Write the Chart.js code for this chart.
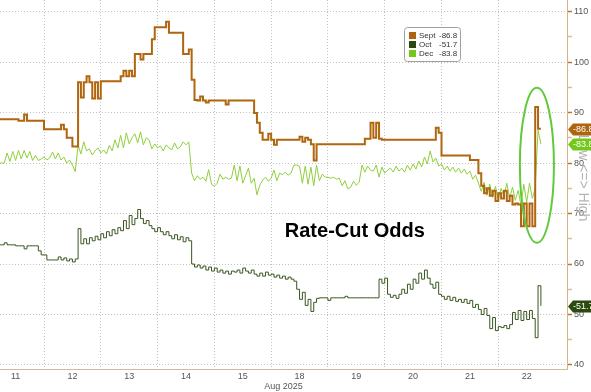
<!DOCTYPE html>
<html>
<head>
<meta charset="utf-8">
<title>Rate-Cut Odds</title>
<script src="https://cdn.jsdelivr.net/npm/chart.js@4.4.1/dist/chart.umd.min.js"></script>
<style>
  html, body { margin: 0; padding: 0; background: #fff; }
  #wrap { width: 591px; height: 392px; }
</style>
</head>
<body>
<div id="wrap"><canvas id="oddsChart" width="591" height="392"></canvas></div>
<script>

// trading days shown on the x axis (weekend 16/17 skipped), one unit = one day
const dayLabels = ['11', '12', '13', '14', '15', '18', '19', '20', '21', '22'];
const dayCenters = [0.5, 1.5, 2.5, 3.5, 4.5, 5.5, 6.5, 7.5, 8.5, 9.5];
const dayBounds = [1, 2, 3, 4, 5, 6, 7, 8, 9];
const yTicks = [40, 45, 50, 55, 60, 65, 70, 75, 80, 85, 90, 95, 100, 105, 110];

// samples every 0.05 day starting at 0.2
const sampleStart = 0.2;
const sampleStep = 0.05;

const seriesNames = ['Sept', 'Oct', 'Dec'];
const seriesLast = [86.8, 51.7, 83.8];
const seriesColors = ['#b0660f', '#3a5620', '#8fcf3c'];
const tagColors = ['#ad6510', '#2c4a10', '#74c81c'];

const septValues = [
  88.7, 88.7, 88.7, 88.7, 88.7, 88.7, 88.7, 88.4, 88.4, 89.6,
  88.4, 88.4, 88.4, 88.4, 88.4, 88.4, 86.7, 86.7, 86.7, 86.7,
  86.7, 86.7, 87.6, 86.7, 85.0, 85.0, 83.3, 83.3, 96.0, 93.0,
  96.0, 97.2, 96.0, 92.8, 96.0, 92.8, 96.2, 96.2, 96.2, 96.2,
  96.2, 96.2, 96.2, 97.2, 98.3, 97.2, 98.3, 97.2, 101.6, 101.6,
  100.5, 101.6, 101.6, 101.6, 104.5, 106.9, 106.9, 106.9, 106.9, 108.0,
  105.8, 105.8, 105.8, 105.8, 105.8, 101.6, 101.6, 102.5, 96.5, 92.5,
  92.4, 93.2, 92.4, 92.0, 92.4, 92.4, 92.4, 92.4, 92.4, 92.4,
  91.6, 92.4, 92.4, 92.4, 92.4, 92.4, 92.4, 92.4, 92.4, 92.4,
  89.9, 88.0, 86.0, 84.6, 84.6, 85.8, 84.6, 83.6, 84.6, 84.6,
  84.6, 84.6, 84.6, 84.6, 84.6, 84.6, 85.2, 84.2, 85.0, 84.6,
  83.7, 80.5, 83.7, 83.7, 83.7, 83.7, 83.7, 83.7, 83.7, 83.7,
  83.7, 83.7, 83.7, 83.7, 83.7, 83.7, 83.7, 83.7, 83.7, 84.8,
  84.8, 88.0, 85.0, 88.0, 84.8, 84.6, 84.6, 84.6, 84.6, 84.6,
  84.6, 84.6, 84.6, 84.6, 84.6, 84.6, 84.6, 84.6, 84.6, 84.6,
  84.6, 84.6, 84.6, 84.6, 87.0, 86.0, 81.5, 81.5, 81.5, 81.5,
  81.5, 81.5, 81.5, 81.5, 81.5, 81.5, 80.6, 80.6, 80.6, 78.0,
  75.5, 74.0, 75.0, 73.5, 74.5, 72.5, 74.0, 73.0, 74.5, 72.5,
  73.5, 71.8, 72.0, 71.8, 67.5, 72.0, 67.5, 72.0, 67.5, 91.1,
  86.8, 86.8
];

const octValues = [
  63.8, 63.8, 64.2, 63.8, 63.8, 63.8, 63.6, 63.6, 63.6, 63.0,
  63.6, 63.6, 63.6, 63.6, 62.6, 61.8, 61.8, 60.8, 60.8, 60.8,
  60.8, 61.4, 60.8, 61.2, 60.6, 61.0, 60.4, 61.0, 67.0, 64.0,
  65.0, 64.0, 65.2, 64.6, 65.5, 64.8, 66.0, 65.2, 66.4, 65.6,
  66.8, 66.0, 67.2, 66.6, 68.6, 67.0, 69.6, 67.8, 69.0, 70.8,
  69.0, 68.0, 68.6, 67.6, 67.0, 66.4, 67.2, 66.4, 65.8, 66.4,
  65.6, 65.0, 65.8, 64.8, 65.4, 64.4, 65.2, 64.6, 60.0, 59.4,
  59.8, 59.2, 59.6, 58.8, 59.4, 58.6, 59.2, 58.4, 58.8, 58.2,
  58.6, 58.0, 58.6, 58.4, 58.8, 58.2, 59.2, 58.6, 58.2, 58.8,
  58.0, 57.6, 58.2, 57.6, 58.4, 57.8, 58.0, 57.4, 57.8, 57.2,
  57.6, 57.0, 57.4, 57.0, 56.6, 55.0, 53.0, 54.4, 51.8, 53.0,
  50.6, 52.4, 53.2, 53.3, 53.3, 53.3, 52.8, 53.3, 53.3, 53.3,
  53.3, 53.3, 53.6, 53.3, 53.3, 53.3, 53.3, 53.3, 53.3, 53.3,
  53.3, 53.3, 53.3, 53.3, 57.0, 56.2, 57.2, 54.0, 53.4, 53.8,
  53.2, 54.0, 55.0, 54.2, 56.0, 55.0, 57.0, 56.2, 58.2, 57.0,
  58.8, 57.2, 56.0, 55.2, 56.4, 54.0, 53.6, 53.0, 53.6, 52.8,
  53.4, 52.6, 53.0, 52.4, 53.0, 52.2, 52.8, 51.4, 52.0, 51.0,
  50.0, 51.2, 49.8, 47.2, 49.4, 46.8, 47.6, 47.4, 47.8, 47.2,
  48.0, 50.4, 49.0, 50.8, 48.8, 50.6, 49.0, 50.8, 49.2, 45.4,
  55.7, 51.7
];

const decValues = [
  80.0, 80.0, 80.0, 82.0, 80.3, 82.3, 80.5, 82.5, 80.8, 82.5,
  81.0, 82.3, 80.5, 81.5, 80.5, 80.8, 81.2, 80.6, 81.0, 82.2,
  80.8, 82.0, 80.6, 81.2, 80.0, 80.6, 79.6, 78.3, 83.5, 81.8,
  84.2, 82.4, 82.8, 81.6, 82.4, 83.0, 82.0, 82.6, 81.8, 83.5,
  82.4, 84.6, 83.0, 85.5, 83.0, 86.0, 83.8, 85.0, 85.8, 84.0,
  86.2, 83.6, 85.0, 84.6, 82.8, 83.8, 83.0, 83.4, 82.4, 83.6,
  83.0, 82.6, 84.0, 82.8, 83.2, 84.2, 83.6, 84.2, 78.0, 76.5,
  77.5, 76.8, 77.2, 76.4, 78.7, 75.8, 75.4, 76.0, 77.8, 76.8,
  77.2, 76.8, 77.0, 79.6, 76.5, 79.4, 76.0, 77.5, 79.0, 76.0,
  77.0, 73.7, 75.6, 76.6, 77.2, 76.4, 77.0, 78.6, 76.5, 78.0,
  77.7, 78.2, 77.6, 78.0, 79.6, 79.6, 79.4, 76.0, 79.4, 75.8,
  79.2, 75.5, 79.6, 76.5, 77.8, 77.2, 77.2, 77.0, 77.2, 76.8,
  77.0, 75.5, 76.5, 74.9, 75.2, 76.4, 75.6, 76.2, 79.6, 78.2,
  79.4, 78.6, 78.4, 79.6, 77.2, 79.2, 78.0, 78.6, 79.0, 78.2,
  79.4, 78.4, 79.0, 78.2, 79.6, 78.6, 79.8, 78.8, 80.4, 79.2,
  81.2, 79.8, 82.4, 80.2, 81.0, 79.4, 79.8, 78.6, 79.4, 78.4,
  79.2, 78.2, 79.0, 78.0, 78.8, 77.8, 78.4, 76.8, 77.6, 76.0,
  74.4, 76.2, 73.6, 75.8, 73.2, 75.4, 72.8, 75.0, 73.4, 76.0,
  73.0, 75.2, 72.6, 74.6, 71.6, 75.8, 72.2, 76.0, 73.0, 75.0,
  86.5, 83.8
];

// annotation placement in data units
const ellipseX = [9.38, 9.98];
const ellipseY = [64.2, 94.9];
const noteText = 'Rate-Cut Odds';
const notePos = [5.24, 65.4];

function toPoints(values) {
  return values.map((v, i) => ({ x: sampleStart + i * sampleStep, y: v }));
}

const extras = {
  id: 'extras',
  afterDatasetsDraw(chart) {
    const ctx = chart.ctx;
    const xs = chart.scales.x;
    const ys = chart.scales.y;

    // circled last move
    const x0 = xs.getPixelForValue(ellipseX[0]);
    const x1 = xs.getPixelForValue(ellipseX[1]);
    const y0 = ys.getPixelForValue(ellipseY[1]);
    const y1 = ys.getPixelForValue(ellipseY[0]);
    ctx.save();
    ctx.beginPath();
    ctx.ellipse((x0 + x1) / 2, (y0 + y1) / 2, (x1 - x0) / 2, (y1 - y0) / 2, 0, 0, Math.PI * 2);
    ctx.strokeStyle = '#62c83c';
    ctx.lineWidth = 2;
    ctx.stroke();

    ctx.fillStyle = '#000';
    ctx.font = 'bold 20px "Liberation Sans", Arial, sans-serif';
    ctx.textBaseline = 'alphabetic';
    ctx.textAlign = 'left';
    ctx.fillText(noteText, xs.getPixelForValue(notePos[0]), ys.getPixelForValue(notePos[1]));
    ctx.restore();
  },
  afterDraw(chart) {
    const ctx = chart.ctx;
    const ys = chart.scales.y;
    ctx.save();

    // rotated axis caption
    ctx.translate(583, 178);
    ctx.rotate(Math.PI / 2);
    ctx.fillStyle = '#b4b4b4';
    ctx.font = '14px "Liberation Sans", Arial, sans-serif';
    ctx.textAlign = 'center';
    ctx.textBaseline = 'middle';
    ctx.fillText('Low <=> High', 0, 0);
    ctx.restore();

    // last value tags
    ctx.save();
    ctx.font = '9px "Liberation Sans", Arial, sans-serif';
    ctx.textBaseline = 'middle';
    ctx.textAlign = 'left';
    seriesLast.forEach((v, i) => {
      const y = Math.round(ys.getPixelForValue(v)) + 0.5;
      const left = ys.left + 1;
      ctx.beginPath();
      ctx.moveTo(left, y);
      ctx.lineTo(left + 5, y - 6);
      ctx.lineTo(chart.width, y - 6);
      ctx.lineTo(chart.width, y + 6);
      ctx.lineTo(left + 5, y + 6);
      ctx.closePath();
      ctx.fillStyle = tagColors[i];
      ctx.fill();
      ctx.fillStyle = '#fff';
      ctx.fillText('-' + v.toFixed(1), left + 5, y + 0.5);
    });
    ctx.restore();

    // legend box
    ctx.save();
    const bx = 404.5, by = 27.5, bw = 56, bh = 34;
    ctx.beginPath();
    ctx.roundRect(bx, by, bw, bh, 3);
    ctx.fillStyle = '#fff';
    ctx.fill();
    ctx.strokeStyle = '#a0a0a0';
    ctx.lineWidth = 1;
    ctx.stroke();
    ctx.font = '8px "Liberation Sans", Arial, sans-serif';
    ctx.textBaseline = 'middle';
    seriesNames.forEach((name, i) => {
      const cy = 35.5 + i * 9;
      ctx.fillStyle = tagColors[i];
      ctx.fillRect(409, cy - 3.5, 7, 7);
      ctx.fillStyle = '#333';
      ctx.fillText(name, 419, cy);
      ctx.fillText('-' + seriesLast[i].toFixed(1), 439, cy);
    });
    ctx.restore();
  }
};

const ctx = document.getElementById('oddsChart').getContext('2d');

new Chart(ctx, {
  type: 'line',
  data: {
    datasets: [
      {
        label: seriesNames[0],
        data: toPoints(septValues),
        borderColor: seriesColors[0],
        borderWidth: 2,
        stepped: true,
        pointRadius: 0
      },
      {
        label: seriesNames[1],
        data: toPoints(octValues),
        borderColor: seriesColors[1],
        borderWidth: 1,
        stepped: true,
        pointRadius: 0
      },
      {
        label: seriesNames[2],
        data: toPoints(decValues),
        borderColor: seriesColors[2],
        borderWidth: 1,
        pointRadius: 0
      }
    ]
  },
  options: {
    responsive: false,
    animation: false,
    layout: { padding: 0 },
    plugins: {
      legend: { display: false },
      tooltip: { enabled: false }
    },
    scales: {
      x: {
        type: 'linear',
        position: 'bottom',
        min: 0.225,
        max: 10.21,
        afterBuildTicks: (s) => { s.ticks = dayBounds.map(v => ({ value: v })); },
        afterFit: (s) => { s.height = 0; s.paddingLeft = 0; s.paddingRight = 0; },
        ticks: { display: false },
        grid: { color: '#c2c2c2', lineWidth: 1, drawTicks: false },
        border: { display: true, color: '#cbbd9c', dash: [1, 2] }
      },
      xl: {
        type: 'linear',
        position: 'bottom',
        min: 0.225,
        max: 10.21,
        afterBuildTicks: (s) => { s.ticks = dayCenters.map(v => ({ value: v })); },
        afterFit: (s) => { s.height = 23; s.paddingLeft = 0; s.paddingRight = 0; },
        ticks: {
          autoSkip: false,
          maxRotation: 0,
          padding: 2,
          color: '#555',
          font: { family: '"Liberation Sans", Arial, sans-serif', size: 9 },
          callback: (value, index) => dayLabels[index]
        },
        grid: { display: false, drawTicks: false },
        border: { display: false },
        title: {
          display: true,
          text: 'Aug 2025',
          color: '#555',
          padding: 0,
          font: { family: '"Liberation Sans", Arial, sans-serif', size: 9 }
        }
      },
      y: {
        type: 'linear',
        position: 'right',
        min: 39.2,
        max: 112.3,
        afterBuildTicks: (s) => { s.ticks = yTicks.map(v => ({ value: v })); },
        afterFit: (s) => { s.width = 24; s.paddingTop = 0; s.paddingBottom = 0; },
        ticks: {
          padding: 2,
          color: '#555',
          font: { family: '"Liberation Sans", Arial, sans-serif', size: 9 },
          callback: (value) => (value % 10 === 0 ? value : '')
        },
        grid: {
          color: (c) => (c.tick && c.tick.value % 10 === 0 ? '#c2c2c2' : 'rgba(0,0,0,0)'),
          tickColor: (c) => (c.tick && c.tick.value % 10 === 0 ? '#b5782a' : '#d8bf98'),
          tickLength: 5,
          tickWidth: 1.5
        },
        border: { display: true, color: '#d6b67e', dash: [1, 2] }
      }
    }
  },
  plugins: [extras]
});
</script>
</body>
</html>
